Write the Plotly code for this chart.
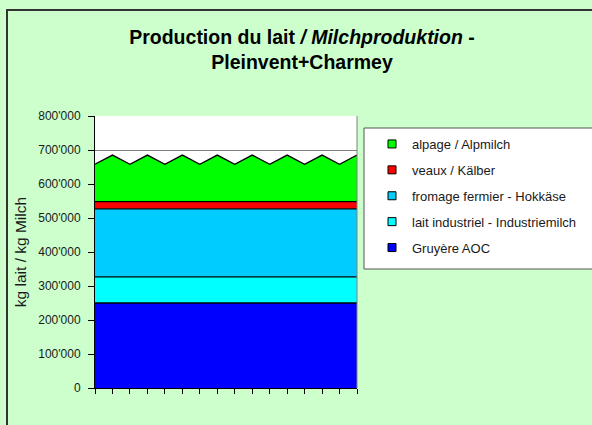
import plotly.graph_objects as go

W, H = 592, 425

# ---- data ----
points = list(range(16))
tick_labels_x = ["", "", "", "", "", "", "", "", "", "", "", "", "", "", "", ""]
gruyere = [250000, 250000, 250000, 250000, 250000, 250000, 250000, 250000,
           250000, 250000, 250000, 250000, 250000, 250000, 250000, 250000]
lait_industriel = [77000, 77000, 77000, 77000, 77000, 77000, 77000, 77000,
                   77000, 77000, 77000, 77000, 77000, 77000, 77000, 77000]
fromage_fermier = [200000, 200000, 200000, 200000, 200000, 200000, 200000, 200000,
                   200000, 200000, 200000, 200000, 200000, 200000, 200000, 200000]
veaux = [21000, 21000, 21000, 21000, 21000, 21000, 21000, 21000,
         21000, 21000, 21000, 21000, 21000, 21000, 21000, 21000]
alpage = [110000, 137000, 110000, 137000, 110000, 137000, 110000, 137000,
          110000, 137000, 110000, 137000, 110000, 137000, 110000, 137000]
y_tickvals = [0, 100000, 200000, 300000, 400000, 500000, 600000, 700000, 800000]
y_ticktext = ["0", "100'000", "200'000", "300'000", "400'000", "500'000",
              "600'000", "700'000", "800'000"]

series = [
    ("Gruyère AOC", gruyere, "#0000FF"),
    ("lait industriel - Industriemilch", lait_industriel, "#00FFFF"),
    ("fromage fermier - Hokkäse", fromage_fermier, "#00CCFF"),
    ("veaux / Kälber", veaux, "#FF0000"),
    ("alpage / Alpmilch", alpage, "#00FF00"),
]

FONT = "Liberation Sans, Arial, sans-serif"

fig = go.Figure()
for name, vals, col in series:
    fig.add_trace(go.Scatter(
        x=points, y=vals, name=name, stackgroup="one", mode="lines",
        line=dict(color="black", width=1.3), fillcolor=col,
        showlegend=False, hoverinfo="x+y+name"))
# legend entries (square keys like the original), top entry first
for name, vals, col in reversed(series):
    fig.add_trace(go.Scatter(
        x=[None], y=[None], name=name, mode="markers", legendgroup=name,
        marker=dict(symbol="square", size=8, color=col,
                    line=dict(color="black", width=1)),
        showlegend=True))

x0, x1 = 95 / W, 357 / W
y0, y1 = (H - 388) / H, (H - 116) / H

fig.update_layout(
    width=W, height=H,
    margin=dict(l=0, r=0, t=0, b=0, autoexpand=False),
    paper_bgcolor="#CCFFCC", plot_bgcolor="white",
    font=dict(family=FONT, size=12, color="#1a1a1a"),
    showlegend=True,
    title=dict(
        text="<b>Production du lait <i>/ Milchproduktion</i> -</b><br><b>Pleinvent+Charmey</b>",
        x=302 / W, xanchor="center", y=1 - 44 / H, yanchor="middle",
        font=dict(family=FONT, size=19.5, color="black")),
    xaxis=dict(domain=[x0, x1], range=[0, 15], tickvals=points,
               ticktext=tick_labels_x, ticks="outside", ticklen=5,
               tickcolor="black", showline=True, linecolor="black",
               linewidth=1, showgrid=False, zeroline=False,
               automargin=False, fixedrange=True),
    yaxis=dict(domain=[y0, y1], range=[0, 800000], tickvals=y_tickvals,
               ticktext=y_ticktext, ticks="outside", ticklen=6,
               tickcolor="black", showline=True, linecolor="black",
               linewidth=1, showgrid=True, gridcolor="#808080",
               gridwidth=1, zeroline=False, automargin=False,
               ticklabelstandoff=5,
               tickfont=dict(family=FONT, size=12, color="#1a1a1a"),
               title=dict(text="kg lait / kg Milch", standoff=7,
                          font=dict(family=FONT, size=15.5, color="#1a1a1a"))),
    legend=dict(x=372 / W, xanchor="left", y=1 - 129 / H, yanchor="top",
                bgcolor="rgba(0,0,0,0)", borderwidth=0,
                traceorder="grouped", tracegroupgap=6,
                itemwidth=30,
                font=dict(family=FONT, size=13, color="#1a1a1a")),
    shapes=[
        # outer chart border (cropped at right/bottom)
        dict(type="rect", xref="paper", yref="paper",
             x0=7 / W, x1=1.05, y0=-0.05, y1=1 - 10 / H,
             line=dict(color="#333333", width=2), layer="below"),
        # legend box
        dict(type="rect", xref="paper", yref="paper",
             x0=364 / W, x1=1.05, y0=1 - 269 / H, y1=1 - 128 / H,
             line=dict(color="#555555", width=1), fillcolor="white",
             layer="below"),
        # right border of plot area
        dict(type="line", xref="paper", yref="paper",
             x0=x1, x1=x1, y0=y0, y1=y1,
             line=dict(color="#808080", width=1)),
    ],
)

fig.write_html("out.html", config={"displayModeBar": False},
               post_script="document.body.style.margin='0';")
